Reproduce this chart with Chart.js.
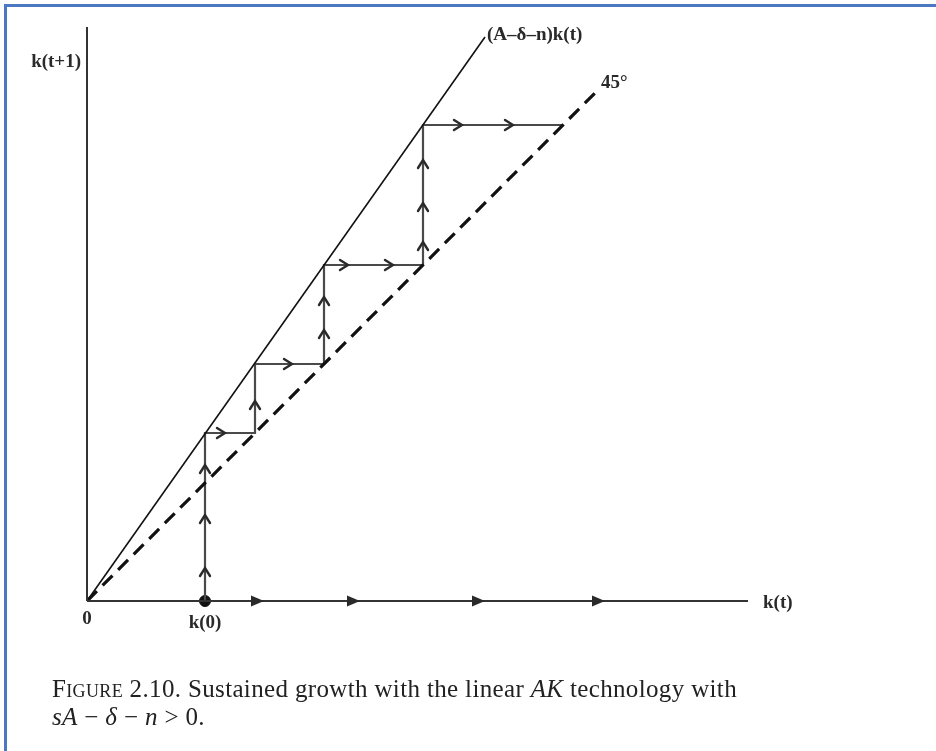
<!DOCTYPE html>
<html>
<head>
<meta charset="utf-8">
<script src="https://cdn.jsdelivr.net/npm/chart.js@4.4.1/dist/chart.umd.min.js"></script>
<style>
  html, body { margin: 0; padding: 0; background: #fff; }
  #wrap { position: relative; width: 936px; height: 751px; overflow: hidden; }
  #c { position: absolute; left: 0; top: 0; }
  #frame { position: absolute; left: 4px; top: 4px; width: 960px; height: 800px;
           border: 3px solid #4a78c2; border-bottom: none; border-right: none; box-sizing: border-box; }
  #caption { position: absolute; left: 52px; top: 675px; font-family: "Liberation Serif", "DejaVu Serif", serif;
             font-size: 25px; line-height: 28px; color: #222; white-space: nowrap; letter-spacing: 0.35px; }
  #caption .sc { font-variant: small-caps; }
</style>
</head>
<body>
<div id="wrap">
  <canvas id="c" width="936" height="751"></canvas>
  <div id="frame"></div>
  <div id="caption"><span class="sc">Figure</span> 2.10. Sustained growth with the linear <i>AK</i> technology with<br><i>sA</i> − <i>δ</i> − <i>n</i> &gt; 0.</div>
</div>
<script>
// Axis extents (k(t) horizontally, k(t+1) vertically, same units on both)
const xMax = 6.61;
const yMax = 5.74;

// Capital stock k(0), k(1), ... visited by the staircase
const kSteps = [1.18, 1.68, 2.37, 3.36, 4.76];

// (A−δ−n)k(t) line and the 45° line
const growthLineX = [0, 3.98];
const growthLineY = [0, 5.64];
const diagX = [0, 5.10];
const diagY = [0, 5.10];

// Direction markers
const axisArrowX = [1.70, 2.66, 3.91, 5.11];
const upArrowX = [1.18, 1.18, 1.18, 1.68, 2.37, 2.37, 3.36, 3.36, 3.36];
const upArrowY = [0.33, 0.86, 1.36, 2.00, 2.71, 3.04, 3.59, 3.98, 4.41];
const rightArrowX = [1.38, 2.05, 2.61, 3.06, 3.75, 4.26];
const rightArrowY = [1.68, 2.37, 3.36, 3.36, 4.76, 4.76];

// Text labels
const yAxisLabel = 'k(t+1)';
const xAxisLabel = 'k(t)';
const originLabel = '0';
const k0Label = 'k(0)';
const growthLabel = '(A\u2013\u03b4\u2013n)k(t)';
const diagLabel = '45\u00b0';

// Staircase: up to the growth line, across to the 45° line, repeat
const staircase = [{ x: kSteps[0], y: 0 }];
for (let i = 0; i < kSteps.length - 1; i++) {
  staircase.push({ x: kSteps[i], y: kSteps[i + 1] });
  staircase.push({ x: kSteps[i + 1], y: kSteps[i + 1] });
}

const toPts = (xs, ys) => xs.map((x, i) => ({ x, y: ys[i] }));

const ink = '#2a2a2a';
const labelFont = 'bold 19px "Liberation Serif", "Times New Roman", serif';

const markerPlugin = {
  id: 'markers',
  afterDatasetsDraw(chart) {
    const { ctx, scales: { x, y } } = chart;
    ctx.save();
    // filled triangles on the k(t) axis
    ctx.fillStyle = ink;
    axisArrowX.forEach(v => {
      const px = x.getPixelForValue(v), py = y.getPixelForValue(0);
      ctx.beginPath();
      ctx.moveTo(px + 7, py);
      ctx.lineTo(px - 6, py - 5.5);
      ctx.lineTo(px - 6, py + 5.5);
      ctx.closePath();
      ctx.fill();
    });
    // open chevrons along the staircase
    ctx.strokeStyle = ink;
    ctx.lineWidth = 2.4;
    ctx.lineCap = 'round';
    ctx.lineJoin = 'miter';
    upArrowX.forEach((v, i) => {
      const px = x.getPixelForValue(v), py = y.getPixelForValue(upArrowY[i]);
      ctx.beginPath();
      ctx.moveTo(px - 5, py + 8);
      ctx.lineTo(px, py);
      ctx.lineTo(px + 5, py + 8);
      ctx.stroke();
    });
    rightArrowX.forEach((v, i) => {
      const px = x.getPixelForValue(v), py = y.getPixelForValue(rightArrowY[i]);
      ctx.beginPath();
      ctx.moveTo(px - 8, py - 5);
      ctx.lineTo(px, py);
      ctx.lineTo(px - 8, py + 5);
      ctx.stroke();
    });

    // labels
    ctx.fillStyle = ink;
    ctx.font = labelFont;
    ctx.textBaseline = 'middle';
    const x0 = x.getPixelForValue(0), y0 = y.getPixelForValue(0);

    ctx.textAlign = 'right';
    ctx.fillText(yAxisLabel, x0 - 6, y.getPixelForValue(yMax) + 35);

    ctx.textAlign = 'left';
    ctx.fillText(xAxisLabel, x.getPixelForValue(xMax) + 15, y0 + 2);

    ctx.textAlign = 'center';
    ctx.fillText(originLabel, x0, y0 + 18);
    ctx.fillText(k0Label, x.getPixelForValue(kSteps[0]), y0 + 22);

    ctx.textAlign = 'left';
    ctx.fillText(growthLabel,
      x.getPixelForValue(growthLineX[1]) + 2, y.getPixelForValue(growthLineY[1]) - 2);
    ctx.fillText(diagLabel,
      x.getPixelForValue(diagX[1]) + 4, y.getPixelForValue(diagY[1]) - 8);
    ctx.restore();
  }
};

new Chart(document.getElementById('c'), {
  type: 'scatter',
  data: {
    datasets: [
      { data: [{ x: 0, y: 0 }, { x: 0, y: yMax }], showLine: true, borderColor: '#333', borderWidth: 2, pointRadius: 0, clip: false },
      { data: [{ x: 0, y: 0 }, { x: xMax, y: 0 }], showLine: true, borderColor: '#333', borderWidth: 2, pointRadius: 0, clip: false },
      { data: toPts(growthLineX, growthLineY), showLine: true, borderColor: '#111', borderWidth: 1.6, pointRadius: 0, clip: false },
      { data: toPts(diagX, diagY), showLine: true, borderColor: '#111', borderWidth: 3.2, borderDash: [14, 8], pointRadius: 0, clip: false },
      { data: staircase, showLine: true, borderColor: '#4a4a4a', borderWidth: 2.2, pointRadius: 0, clip: false, borderJoinStyle: 'miter' },
      { data: [{ x: kSteps[0], y: 0 }], showLine: false, pointRadius: 5.5, pointBackgroundColor: '#111', pointBorderColor: '#111', clip: false }
    ]
  },
  options: {
    responsive: false,
    animation: false,
    devicePixelRatio: 1,
    layout: { padding: { left: 87, right: 188, top: 27, bottom: 150 } },
    scales: {
      x: { type: 'linear', min: 0, max: xMax, display: false },
      y: { type: 'linear', min: 0, max: yMax, display: false }
    },
    plugins: { legend: { display: false }, tooltip: { enabled: false } },
    events: []
  },
  plugins: [markerPlugin]
});
</script>
</body>
</html>
